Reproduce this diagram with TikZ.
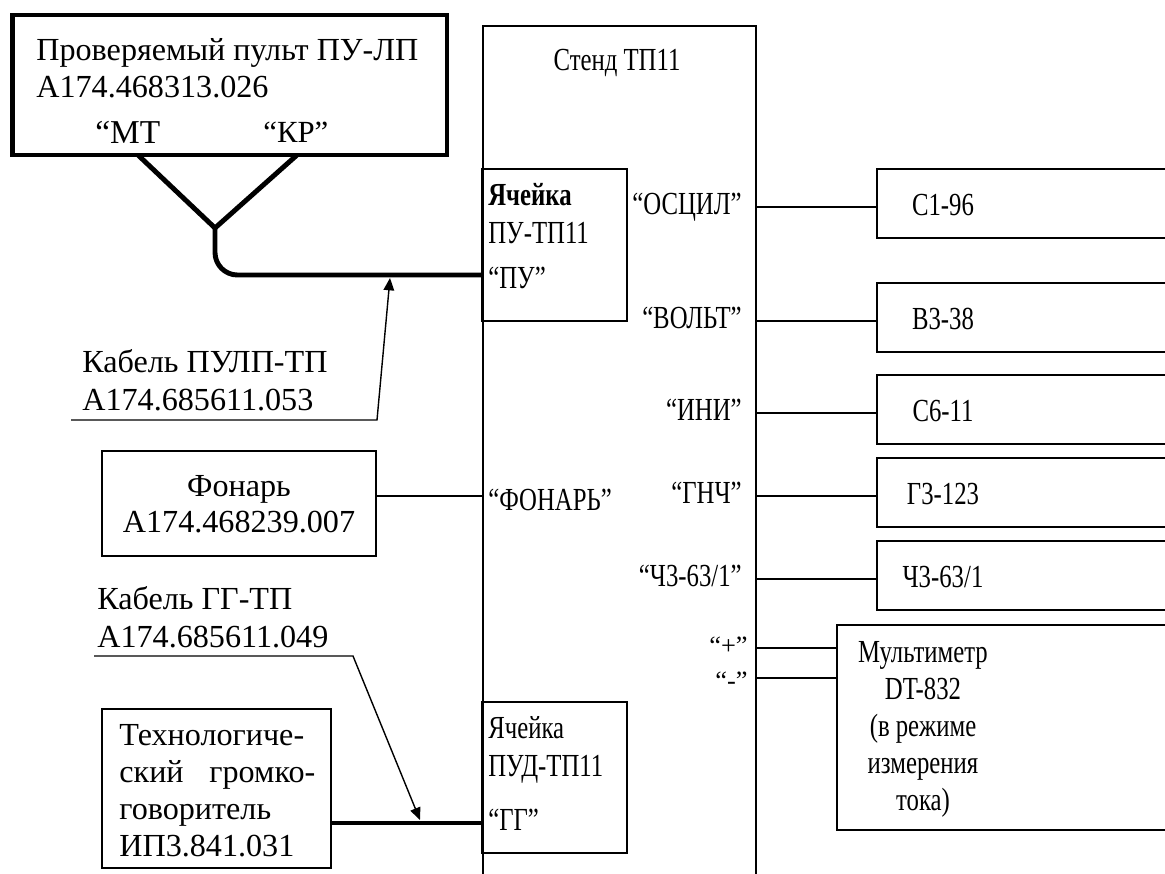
\documentclass[tikz,border=0pt]{standalone}
\usepackage{fontspec}
\setmainfont{Liberation Serif}
\newfontfamily\narrowfont{Liberation Serif}[FakeStretch=0.77]
\usetikzlibrary{arrows.meta}
\begin{document}
\begin{tikzpicture}[x=0.02cm,y=-0.02cm]
    \tikzset{
        box/.style={draw, line width=1pt, inner sep=0pt},
        txt/.style={inner sep=0pt, font=\fontsize{18.3}{21.2}\selectfont},
        narrowtxt/.style={inner sep=0pt, font=\narrowfont\fontsize{18.3}{21.2}\selectfont},
        smalltxt/.style={inner sep=0pt, font=\fontsize{15}{17}\selectfont},
        wire/.style={line width=1pt},
        cable/.style={line width=2.8pt},
        lead/.style={line width=0.8pt, -{Triangle[length=7pt,width=6pt]}}
    }
    \clip (0,0) rectangle (1165,873);

    \draw node[box, line width=2.8pt, minimum width=8.7cm, minimum height=2.8cm] (pult) at (229.5,85) {};
    \node[txt, anchor=base west] (pultname) at (36,60) {Проверяемый пульт ПУ-ЛП};
    \node[txt, anchor=base west] (pultnum) at (36,97) {А174.468313.026};
    \node[txt, font=\fontsize{19}{21}\selectfont, anchor=base west] (mtlbl) at (95,143) {“МТ};
    \node[txt, font=\fontsize{17.5}{19}\selectfont, anchor=base west] (krlbl) at (263,142) {“КР”};

    \draw node[box, minimum width=5.46cm, minimum height=18cm, anchor=north west] (stend) at (482,25) {};
    \node[narrowtxt, anchor=base] (stendname) at (617,70) {Стенд ТП11};

    \draw node[box, minimum width=2.9cm, minimum height=3.04cm] (pucell) at (554.5,245) {};
    \node[narrowtxt, anchor=base west, align=left] (pucelltxt) at (488,243) {\textbf{Ячейка}\\ПУ-ТП11};
    \node[narrowtxt, anchor=base west] (puport) at (488,288) {“ПУ”};

    \draw node[box, minimum width=2.9cm, minimum height=3.02cm] (pudcell) at (554.5,777.5) {};
    \node[narrowtxt, anchor=base west, align=left] (pudcelltxt) at (488,776) {Ячейка\\ПУД-ТП11};
    \node[narrowtxt, anchor=base west] (ggport) at (488,830) {“ГГ”};

    \draw node[box, minimum width=5.48cm, minimum height=2.1cm] (fonar) at (239,503.5) {};
    \node[txt, anchor=base, align=center, font=\fontsize{18.3}{20}\selectfont] (fonartxt) at (239,532) {Фонарь\\А174.468239.007};
    \node[narrowtxt, anchor=base west] (fonarport) at (488,510) {“ФОНАРЬ”};
    \coordinate (fonarin) at (482,496);
    \draw[wire] (fonar.east |- fonarin) -- (fonarin);

    \draw node[box, minimum width=4.58cm, minimum height=3.18cm] (spk) at (216.5,788.5) {};
    \node[txt, anchor=base west, text width=3.92cm, align=left] (spktxt) at (119,745)
        {Технологиче-\\ский\hfill громко-\\говоритель\\ИП3.841.031};
    \coordinate (spkin) at (482,823);
    \draw[cable] (spk.east |- spkin) -- (spkin);

    \coordinate (mt) at (138,155);
    \coordinate (kr) at (297,155);
    \coordinate (junction) at (215,228);
    \coordinate (puin) at (482,275);
    \draw[cable] (mt) -- (junction) -- (kr);
    \draw[cable, rounded corners=0.45cm] (junction) |- (puin);

    \node[txt, anchor=base west, align=left] (cab1) at (82,410) {Кабель ПУЛП-ТП\\А174.685611.053};
    \coordinate (cab1a) at (71,420);
    \coordinate (cab1b) at (377,420);
    \coordinate (cab1tip) at (390,278);
    \draw[lead] (cab1a) -- (cab1b) -- (cab1tip);

    \node[txt, anchor=base west, align=left] (cab2) at (97,647) {Кабель ГГ-ТП\\А174.685611.049};
    \coordinate (cab2a) at (94,656);
    \coordinate (cab2b) at (353,656);
    \coordinate (cab2tip) at (420,820);
    \draw[lead] (cab2a) -- (cab2b) -- (cab2tip);

    \foreach \name/\y/\txt/\lbl in {%
        osc/207/С1-96/ОСЦИЛ, volt/321/В3-38/ВОЛЬТ, ini/413/С6-11/ИНИ,%
        gnch/496/Г3-123/ГНЧ, chm/579/{Ч3-63/1}/{Ч3-63/1}%
    }{
        \draw node[box, minimum width=6cm, minimum height=1.37cm, anchor=west] (\name) at (876,\y-3.5) {};
        \node[narrowtxt] (\name txt) at (943,\y-2) {\txt};
        \node[narrowtxt, anchor=base east] (\name lbl) at (742,\y+7) {“\lbl”};
        \coordinate (\name p) at (755,\y);
        \draw[wire] (\name p) -- (\name p -| \name.west);
    }

    \draw node[box, minimum width=6.78cm, minimum height=4.1cm, anchor=west] (multi) at (836,727.5) {};
    \node[narrowtxt, anchor=base, align=center, font=\narrowfont\fontsize{18.3}{21}\selectfont] (multitxt) at (923,810)
        {Мультиметр\\DT-832\\(в режиме\\измерения\\тока)};
    \node[smalltxt, anchor=base east] (pluslbl) at (748,654) {“+”};
    \node[smalltxt, anchor=base east] (minuslbl) at (748,689) {“-”};
    \coordinate (plusp) at (755,648);
    \coordinate (minusp) at (755,678);
    \draw[wire] (plusp) -- (plusp -| multi.west);
    \draw[wire] (minusp) -- (minusp -| multi.west);
\end{tikzpicture}
\end{document}
